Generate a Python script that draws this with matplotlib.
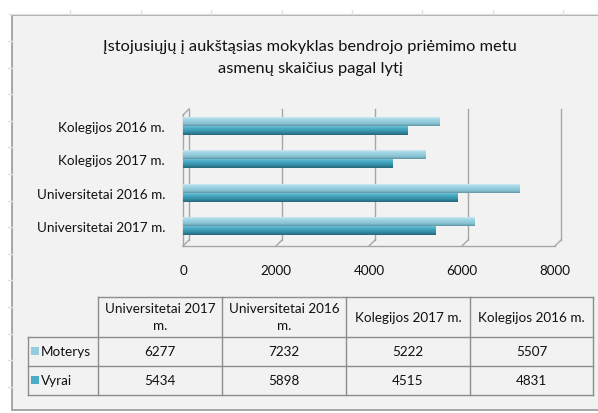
import numpy as np
import matplotlib
matplotlib.use('Agg')
import matplotlib.pyplot as plt
from matplotlib.colors import LinearSegmentedColormap
from matplotlib.transforms import ScaledTranslation, blended_transform_factory

plt.rcParams['font.family'] = ['Lato', 'DejaVu Sans']

# duomenys
categories = ['Universitetai 2017 m.', 'Universitetai 2016 m.', 'Kolegijos 2017 m.', 'Kolegijos 2016 m.']
header_labels = ['Universitetai 2017\nm.', 'Universitetai 2016\nm.', 'Kolegijos 2017 m.', 'Kolegijos 2016 m.']
moterys = [6277, 7232, 5222, 5507]
vyrai = [5434, 5898, 4515, 4831]
series_names = ['Moterys', 'Vyrai']
xticks = [0, 2000, 4000, 6000, 8000]
title = 'Įstojusiųjų į aukštąsias mokyklas bendrojo priėmimo metu\nasmenų skaičius pagal lytį'

LIGHT = '#93cddd'
DARK = '#4bacc6'
GRID = '#a6a6a6'
TXT = '#111111'
FS = 9.7

W, H = 598, 414
fig = plt.figure(figsize=(W / 100, H / 100), dpi=100)
fig.patch.set_facecolor('white')

# fonas / rėmelis (pikseliais)
bg = fig.add_axes([0, 0, 1, 1], zorder=0)
bg.set_xlim(0, W)
bg.set_ylim(H, 0)
bg.axis('off')
# excel langelių tinklelis už diagramos
bg.plot([9, W], [14.5, 14.5], color='#e2e2e2', lw=1)
for x in np.arange(70.4, W, 70.4):
    bg.plot([x, x], [11, 14.5], color='#e2e2e2', lw=1)
for y in np.arange(42, H, 26.6):
    bg.plot([8, 12], [y, y], color='#e2e2e2', lw=1)
bg.add_patch(plt.Rectangle((12, 16), W + 20, 395, facecolor='#f2f2f2',
                           edgecolor='#a0a0a0', lw=1.3, clip_on=False))

bg.text(310, 58, title, ha='center', va='center', fontsize=11.8,
        color=TXT, linespacing=1.65)

# stulpelinė diagrama
ax = fig.add_axes([183 / W, (H - 247) / H, 372 / W, 137 / H], zorder=2)
ax.patch.set_alpha(0)
for s in ax.spines.values():
    s.set_visible(False)

ypos = np.arange(len(categories))
bh = 0.27

cm_light = LinearSegmentedColormap.from_list('l', ['#c9e8f1', '#a3d6e4', '#93cddd', '#86bfce', '#5f97a6'])
cm_dark = LinearSegmentedColormap.from_list('d', ['#6cc0d6', '#4bacc6', '#3d9bb3', '#31859c', '#25687a'])
grad = np.linspace(0, 1, 32).reshape(-1, 1)

for i in ypos:
    ax.imshow(grad, cmap=cm_light, aspect='auto', extent=(0, moterys[i], i, i + bh),
              origin='upper', zorder=3)
    ax.imshow(grad, cmap=cm_dark, aspect='auto', extent=(0, vyrai[i], i - bh, i),
              origin='upper', zorder=3)

ax.set_xlim(0, 8000)
ax.set_ylim(-0.6, 3.51)
ax.set_xticks(xticks)
ax.set_xticklabels([str(t) for t in xticks], fontsize=FS, color=TXT)
ax.set_yticks(ypos)
ax.set_yticklabels(categories, fontsize=FS, color=TXT)
ax.tick_params(axis='x', length=0, pad=13)
ax.tick_params(axis='y', length=0, pad=13)

# 3D sienelės ir tinklelis
front = blended_transform_factory(ax.transData, ax.transAxes)
back = front + ScaledTranslation(6 / 100, 6 / 100, fig.dpi_scale_trans)
top = 0.956
for t in xticks:
    ax.plot([t, t], [0, top], color=GRID, lw=1, transform=back, zorder=1, clip_on=False)
# grindų įstrižainės
for t in xticks:
    p0 = back.transform((t, 0))
    p1 = front.transform((t, 0))
    ax.plot([p0[0], p1[0]], [p0[1], p1[1]], color=GRID, lw=1, transform=None,
            zorder=1, clip_on=False)
ax.plot([0, 8000], [0, 0], color=GRID, lw=1, transform=front, zorder=1, clip_on=False)
ax.plot([0, 0], [0, top], color=GRID, lw=1, transform=front, zorder=1, clip_on=False)
p0 = front.transform((0, top))
p1 = back.transform((0, top))
ax.plot([p0[0], p1[0]], [p0[1], p1[1]], color=GRID, lw=1, transform=None,
        zorder=1, clip_on=False)

# duomenų lentelė
col_x = [28, 98, 222, 346, 470, 593]
row_y = [298, 338, 367, 396]
lc = '#8c8c8c'
bg.plot([col_x[1], col_x[-1]], [row_y[0], row_y[0]], color=lc, lw=1)
for y in row_y[1:]:
    bg.plot([col_x[0], col_x[-1]], [y, y], color=lc, lw=1)
bg.plot([col_x[0], col_x[0]], [row_y[1], row_y[-1]], color=lc, lw=1)
for x in col_x[1:]:
    bg.plot([x, x], [row_y[0], row_y[-1]], color=lc, lw=1)

for j, lab in enumerate(header_labels):
    cx = (col_x[j + 1] + col_x[j + 2]) / 2
    bg.text(cx, (row_y[0] + row_y[1]) / 2, lab, ha='center', va='center',
            fontsize=FS, color=TXT, linespacing=1.5)

for r, (name, vals, col) in enumerate(zip(series_names, [moterys, vyrai], [LIGHT, DARK])):
    cy = (row_y[r + 1] + row_y[r + 2]) / 2
    bg.add_patch(plt.Rectangle((31, cy - 4.5), 8, 8, facecolor=col, edgecolor='none'))
    bg.text(41, cy, name, ha='left', va='center', fontsize=FS, color=TXT)
    for j, v in enumerate(vals):
        cx = (col_x[j + 1] + col_x[j + 2]) / 2
        bg.text(cx, cy, str(v), ha='center', va='center', fontsize=FS, color=TXT)

fig.savefig('out.png', dpi=100)
